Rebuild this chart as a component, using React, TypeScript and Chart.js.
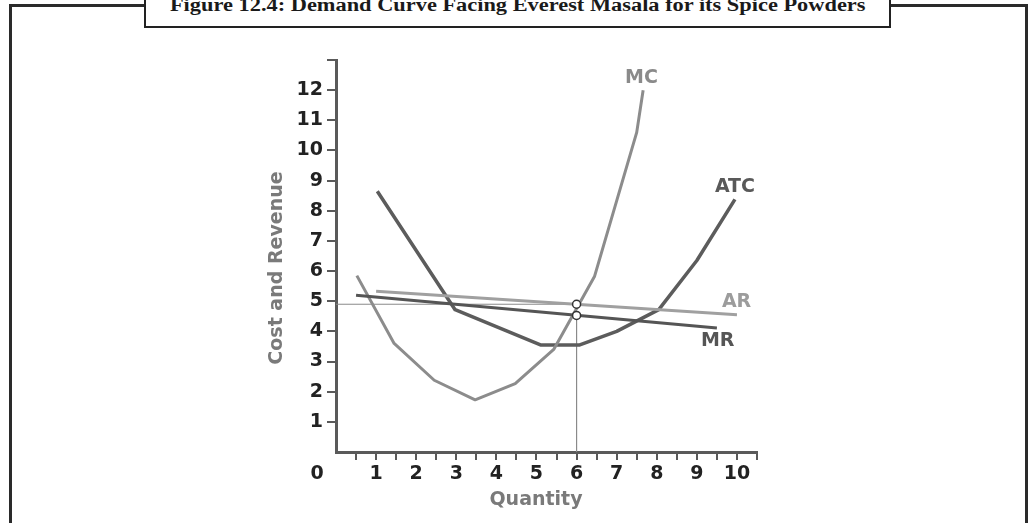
import React, { useEffect, useRef } from 'react';
import { Chart, registerables } from 'chart.js';

Chart.register(...registerables);

// ---- text ----
const titleText = 'Figure 12.4: Demand Curve Facing Everest Masala for its Spice Powders';
const xAxisTitle = 'Quantity';
const yAxisTitle = 'Cost and Revenue';
const originLabel = '0';

// ---- tick labels ----
const xTickLabels = [1, 2, 3, 4, 5, 6, 7, 8, 9, 10];
const yTickLabels = [1, 2, 3, 4, 5, 6, 7, 8, 9, 10, 11, 12];

// ---- series (quantity, cost/revenue) ----
const mcQuantity = [0.52, 1.45, 2.45, 3.47, 4.47, 5.43, 6.45, 7.5, 7.66];
const mcValue = [5.85, 3.6, 2.38, 1.73, 2.27, 3.4, 5.83, 10.6, 12.0];

const atcQuantity = [1.03, 2.97, 5.1, 6.08, 7.0, 8.05, 9.0, 9.95];
const atcValue = [8.65, 4.72, 3.55, 3.55, 4.0, 4.72, 6.35, 8.38];

const arQuantity = [1.0, 10.0];
const arValue = [5.33, 4.55];

const mrQuantity = [0.5, 9.5];
const mrValue = [5.2, 4.11];

// equilibrium markers
const eqQuantity = 6;
const eqPrice = 4.9;
const eqMarginal = 4.53;

// curve name labels (anchored in data space)
const curveNames = ['MC', 'ATC', 'AR', 'MR'];
const curveNameQ = [7.62, 9.95, 9.99, 9.52];
const curveNameV = [12.39, 8.77, 4.98, 3.67];

const FONT = '"DejaVu Sans", Verdana, sans-serif';

const pts = (qs: number[], vs: number[]) => qs.map((q, i) => ({ x: q, y: vs[i] }));

export default function App() {
  const canvasRef = useRef<HTMLCanvasElement | null>(null);
  const titleRef = useRef<HTMLSpanElement | null>(null);

  useEffect(() => {
    const t = titleRef.current;
    if (t) {
      const w = t.offsetWidth;
      if (w > 0) t.style.transform = `scaleX(${695 / w})`;
    }
    const canvas = canvasRef.current;
    if (!canvas) return;

    const labelColors = ['#8a8a8a', '#595959', '#9c9c9c', '#555555'];

    const annotate = {
      id: 'annotate',
      afterDatasetsDraw(chart: any) {
        const { ctx, scales } = chart;
        const x = scales.x;
        const y = scales.y;
        ctx.save();
        ctx.font = `bold 19px ${FONT}`;
        ctx.textAlign = 'center';
        ctx.textBaseline = 'middle';
        curveNames.forEach((name, i) => {
          ctx.fillStyle = labelColors[i];
          ctx.fillText(name, x.getPixelForValue(curveNameQ[i]), y.getPixelForValue(curveNameV[i]));
        });
        ctx.fillStyle = '#222';
        ctx.fillText(originLabel, x.left - 19, y.bottom + 22);
        ctx.fillStyle = '#7a7a7a';
        ctx.fillText(xAxisTitle, 536, 500);
        ctx.translate(277, 268);
        ctx.rotate(-Math.PI / 2);
        ctx.fillText(yAxisTitle, 0, 0);
        ctx.restore();
      },
    };

    const line = (label: string, data: any[], color: string, width: number, order: number) => ({
      label,
      data,
      showLine: true,
      borderColor: color,
      backgroundColor: color,
      borderWidth: width,
      pointRadius: 0,
      pointHoverRadius: 0,
      borderJoinStyle: 'round',
      borderCapStyle: 'butt',
      tension: 0,
      fill: false,
      order,
    });

    const hiddenZero = (ctx: any) =>
      ctx.tick && ctx.tick.value === 0 ? 'rgba(0,0,0,0)' : '#5a5a5a';

    const chart = new Chart(canvas, {
      type: 'scatter',
      data: {
        datasets: [
          {
            label: 'Equilibrium',
            data: [
              { x: eqQuantity, y: eqPrice },
              { x: eqQuantity, y: eqMarginal },
            ],
            showLine: false,
            pointRadius: 4,
            pointHoverRadius: 4,
            pointBackgroundColor: '#ffffff',
            pointBorderColor: '#333333',
            pointBorderWidth: 1.5,
            order: 0,
          } as any,
          line('AR', pts(arQuantity, arValue), '#a0a0a0', 3, 1),
          line('MR', pts(mrQuantity, mrValue), '#555555', 3, 2),
          line('MC', pts(mcQuantity, mcValue), '#8c8c8c', 3, 3),
          line('ATC', pts(atcQuantity, atcValue), '#5c5c5c', 3.5, 4),
          line('Price guide', [{ x: 0, y: eqPrice }, { x: eqQuantity, y: eqPrice }], '#8a8a8a', 1, 5),
          line('Quantity guide', [{ x: eqQuantity, y: eqMarginal }, { x: eqQuantity, y: 0 }], '#8a8a8a', 1, 5),
        ] as any,
      },
      options: {
        responsive: false,
        devicePixelRatio: 1,
        animation: false,
        events: [],
        layout: { padding: { top: 60, right: 273, bottom: 0, left: 0 } },
        plugins: {
          legend: { display: false },
          tooltip: { enabled: false },
          title: { display: false },
        },
        scales: {
          x: {
            type: 'linear',
            min: 0,
            max: 10.5,
            afterFit: (s: any) => {
              s.height = 71;
            },
            border: { display: true, color: '#5a5a5a', width: 3 },
            grid: {
              drawOnChartArea: false,
              drawTicks: true,
              tickLength: 8,
              lineWidth: 2,
              color: hiddenZero,
            },
            ticks: {
              stepSize: 0.5,
              autoSkip: false,
              maxRotation: 0,
              padding: 3,
              color: '#222',
              font: { family: FONT, weight: 'bold', size: 19 },
              callback: (v: any) => (xTickLabels.includes(Number(v)) ? String(v) : ''),
            },
          },
          y: {
            type: 'linear',
            min: 0,
            max: 13,
            afterFit: (s: any) => {
              s.width = 336;
            },
            border: { display: true, color: '#5a5a5a', width: 3 },
            grid: {
              drawOnChartArea: false,
              drawTicks: true,
              tickLength: 9,
              lineWidth: 2,
              color: hiddenZero,
            },
            ticks: {
              stepSize: 1,
              autoSkip: false,
              padding: 4,
              color: '#222',
              font: { family: FONT, weight: 'bold', size: 19 },
              callback: (v: any) => (yTickLabels.includes(Number(v)) ? String(v) : ''),
            },
          },
        },
      } as any,
      plugins: [annotate],
    });

    return () => chart.destroy();
  }, []);

  return (
    <div
      style={{
        position: 'absolute',
        left: 0,
        top: 0,
        width: 1030,
        height: 523,
        overflow: 'hidden',
        background: '#ffffff',
      }}
    >
      <canvas
        ref={canvasRef}
        width={1030}
        height={523}
        style={{ position: 'absolute', left: 0, top: 0, display: 'block' }}
      />
      {/* outer frame */}
      <div
        style={{
          position: 'absolute',
          left: 9,
          top: 4,
          width: 1019,
          height: 600,
          boxSizing: 'border-box',
          borderTop: '3px solid #2a2a2a',
          borderLeft: '3px solid #2a2a2a',
          borderRight: '3px solid #2a2a2a',
          pointerEvents: 'none',
        }}
      />
      {/* title box */}
      <div
        style={{
          position: 'absolute',
          left: 144,
          top: -10,
          width: 747,
          height: 38,
          boxSizing: 'border-box',
          border: '2.5px solid #222',
          background: '#ffffff',
        }}
      />
      <div
        style={{
          position: 'absolute',
          left: 144,
          top: -3.6,
          width: 747,
          textAlign: 'center',
          fontFamily: '"Liberation Serif", serif',
          fontWeight: 'bold',
          fontSize: 18,
          lineHeight: '18px',
          color: '#1a1a1a',
          whiteSpace: 'nowrap',
        }}
      >
        <span ref={titleRef} style={{ display: 'inline-block', transformOrigin: 'center' }}>
          {titleText}
        </span>
      </div>
    </div>
  );
}
